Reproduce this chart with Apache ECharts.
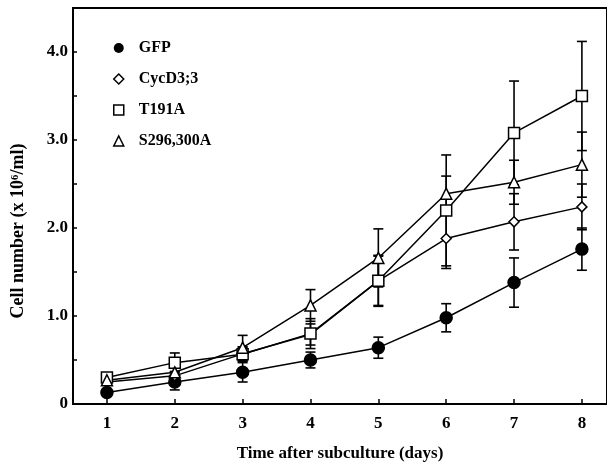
<!DOCTYPE html>
<html>
<head>
<meta charset="utf-8">
<script src="https://cdn.jsdelivr.net/npm/echarts@6/dist/echarts.min.js"></script>
<style>
  html, body { margin: 0; padding: 0; background: #fff; }
  #chart { width: 607px; height: 464px; }
</style>
</head>
<body>
<div id="chart"></div>
<script>
// days after subculture
let days = [1, 2, 3, 4, 5, 6, 7, 8];

// cell number (x 10^6/ml), mean and error
let gfp = [0.13, 0.25, 0.36, 0.50, 0.64, 0.98, 1.38, 1.76];
let gfpErr = [0.04, 0.09, 0.11, 0.09, 0.12, 0.16, 0.28, 0.24];
let cyc = [0.25, 0.32, 0.57, 0.79, 1.40, 1.88, 2.07, 2.24];
let cycErr = [0.03, 0.05, 0.08, 0.12, 0.28, 0.34, 0.32, 0.26];
let t191 = [0.30, 0.47, 0.565, 0.80, 1.40, 2.20, 3.08, 3.50];
let t191Err = [0.04, 0.11, 0.08, 0.17, 0.29, 0.63, 0.59, 0.62];
let s296 = [0.27, 0.36, 0.64, 1.12, 1.66, 2.39, 2.52, 2.72];
let s296Err = [0.03, 0.05, 0.14, 0.18, 0.33, 0.20, 0.25, 0.37];

let yTicks = [0, 1, 2, 3, 4];
let yMinor = [0.5, 1.5, 2.5, 3.5];

let dom = document.getElementById("chart");
let myChart = echarts.init(dom, null, { renderer: "canvas" });

const FONT = "Liberation Serif";

function pairs(ys) {
    return days.map((d, i) => [d, ys[i]]);
}

function errData(ys, es) {
    return days.map((d, i) => [d, ys[i] - es[i], ys[i] + es[i]]);
}

function errorSeries(name, ys, es) {
    return {
        name: name,
        type: "custom",
        z: 1,
        silent: true,
        renderItem: function (params, api) {
            let x = api.value(0);
            let lo = api.coord([x, api.value(1)]);
            let hi = api.coord([x, api.value(2)]);
            let w = 5;
            let style = { stroke: "#000", lineWidth: 1.6 };
            return {
                type: "group",
                children: [
                    { type: "line", shape: { x1: lo[0], y1: lo[1], x2: hi[0], y2: hi[1] }, style: style },
                    { type: "line", shape: { x1: lo[0] - w, y1: lo[1], x2: lo[0] + w, y2: lo[1] }, style: style },
                    { type: "line", shape: { x1: hi[0] - w, y1: hi[1], x2: hi[0] + w, y2: hi[1] }, style: style },
                ],
            };
        },
        encode: { x: 0, y: [1, 2] },
        data: errData(ys, es),
    };
}

function lineSeries(name, ys, symbol, size, fill) {
    return {
        name: name,
        type: "line",
        z: 3,
        data: pairs(ys),
        symbol: symbol,
        symbolSize: size,
        showAllSymbol: true,
        lineStyle: { color: "#000", width: 1.5 },
        itemStyle: { color: fill, borderColor: "#000", borderWidth: 1.5, opacity: 1 },
        emphasis: { disabled: true },
    };
}

let option = {
    animation: false,
    grid: {
        left: 73, right: 0, top: 8, bottom: 60,
        outerBoundsMode: "none",
        show: true, borderColor: "#000", borderWidth: 2,
    },
    graphic: [{
        type: "text",
        x: 18, y: 231,
        rotation: Math.PI / 2,
        style: {
            text: "Cell number (x 10\u2076/ml)",
            align: "center", verticalAlign: "middle",
            fontFamily: FONT, fontWeight: "bold", fontSize: 18, fill: "#000",
        },
    }],
    legend: {
        orient: "vertical",
        left: 108, top: 35,
        itemGap: 15,
        itemWidth: 10, itemHeight: 10,
        textStyle: { fontFamily: FONT, fontWeight: "bold", fontSize: 16, color: "#000", padding: [0, 0, 0, 10] },
        data: [
            { name: "GFP", icon: "circle", itemStyle: { color: "#000", borderColor: "#000" } },
            { name: "CycD3;3", icon: "diamond", itemStyle: { color: "#fff", borderColor: "#000", borderWidth: 1.5 } },
            { name: "T191A", icon: "rect", itemStyle: { color: "#fff", borderColor: "#000", borderWidth: 1.5 } },
            { name: "S296,300A", icon: "triangle", itemStyle: { color: "#fff", borderColor: "#000", borderWidth: 1.5 } },
        ],
    },
    xAxis: {
        type: "value",
        min: 0.5, max: 8.37,
        name: "Time after subculture (days)",
        nameLocation: "middle",
        nameGap: 41,
        nameTextStyle: { fontFamily: FONT, fontWeight: "bold", fontSize: 17, color: "#000" },
        axisLine: { show: true, lineStyle: { color: "#000", width: 2 } },
        axisTick: { show: true, inside: true, length: 5, customValues: days, lineStyle: { color: "#000", width: 1.5 } },
        axisLabel: { customValues: days, margin: 11, fontFamily: FONT, fontWeight: "bold", fontSize: 17, color: "#000" },
        splitLine: { show: false },
    },
    yAxis: {
        type: "value",
        min: 0, max: 4.5,
        axisLine: { show: true, lineStyle: { color: "#000", width: 2 } },
        axisTick: { show: true, inside: true, length: 4, customValues: yTicks.concat(yMinor), lineStyle: { color: "#000", width: 1.5 } },
        axisLabel: {
            customValues: yTicks, margin: 5,
            fontFamily: FONT, fontWeight: "bold", fontSize: 17, color: "#000",
            formatter: (v) => (v === 0 ? "0" : v.toFixed(1)),
        },
        splitLine: { show: false },
    },
    series: [
        errorSeries("GFP", gfp, gfpErr),
        errorSeries("CycD3;3", cyc, cycErr),
        errorSeries("T191A", t191, t191Err),
        errorSeries("S296,300A", s296, s296Err),
        lineSeries("GFP", gfp, "circle", 12, "#000"),
        lineSeries("CycD3;3", cyc, "diamond", 10, "#fff"),
        lineSeries("T191A", t191, "rect", 11, "#fff"),
        lineSeries("S296,300A", s296, "triangle", 11, "#fff"),
    ],
};

myChart.setOption(option);
window.addEventListener("resize", myChart.resize);
</script>
</body>
</html>
